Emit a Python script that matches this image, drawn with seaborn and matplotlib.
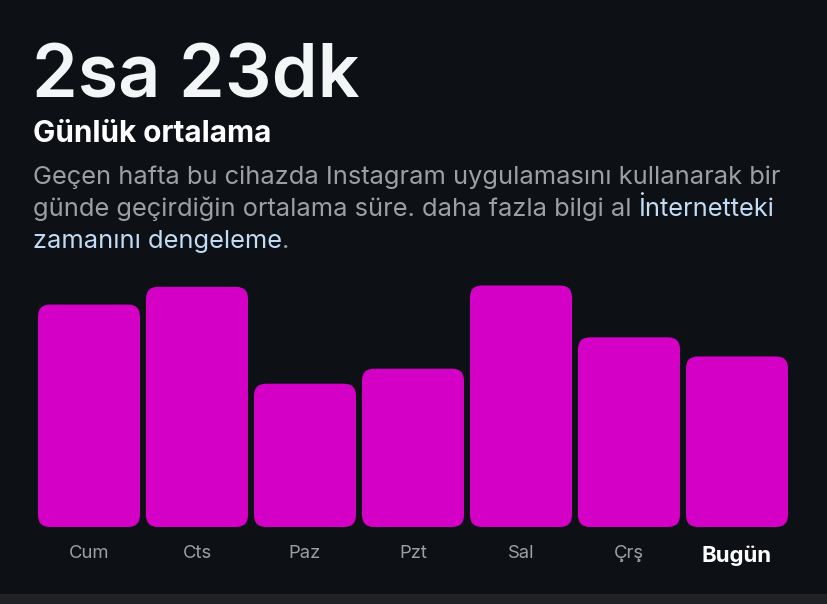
import matplotlib.pyplot as plt
import seaborn as sns
from matplotlib.patches import FancyBboxPatch

# minutes per day
days = ['Cum', 'Cts', 'Paz', 'Pzt', 'Sal', 'Çrş', 'Bugün']
minutes = [163, 176, 105, 116, 177, 139, 125]

BG = '#0d1015'
BAR = '#d400c5'
GRAY = '#9c9fa4'
LINK = '#c2dcf5'

sns.set_style('dark')
plt.rcParams['font.family'] = ['Inter', 'DejaVu Sans']

fig = plt.figure(figsize=(8.28, 6.04), dpi=100, facecolor=BG)
W, H = 828, 604

ax = fig.add_axes([35 / W, (H - 527) / H, 756 / W, 247 / H])
ax.set_facecolor(BG)
sns.barplot(x=days, y=minutes, color=BAR, width=102 / 108, saturation=1, ax=ax)
ax.set_xlim(-0.5, 6.5)
ax.set_ylim(0, 181)

# swap plain rectangles for rounded ones
radius_px = 12
fig.canvas.draw()
sx = ax.transData.transform((1, 0))[0] - ax.transData.transform((0, 0))[0]
sy = ax.transData.transform((0, 1))[1] - ax.transData.transform((0, 0))[1]
rx = radius_px / sx
for p in list(ax.patches):
    x, y, w, h = p.get_x(), p.get_y(), p.get_width(), p.get_height()
    p.remove()
    ax.add_patch(FancyBboxPatch((x, y), w, h,
                                boxstyle=f'round,pad=0,rounding_size={rx}',
                                mutation_aspect=sx / sy,
                                facecolor=BAR, edgecolor='none'))

for s in ax.spines.values():
    s.set_visible(False)
ax.grid(False)
ax.set_yticks([])
ax.tick_params(axis='x', length=0, pad=13)
ax.set_xticks(range(len(days)))
ax.set_xticklabels(days)
for i, lab in enumerate(ax.get_xticklabels()):
    if i == len(days) - 1:
        lab.set_color('white')
        lab.set_fontsize(16)
        lab.set_fontweight('bold')
    else:
        lab.set_color(GRAY)
        lab.set_fontsize(13.3)

# header texts
fig.text(32 / W, 1 - 97 / H, '2sa 23dk', color='#f4f5f7', fontsize=53,
         fontweight='semibold', va='baseline', ha='left')
fig.text(33 / W, 1 - 142 / H, 'Günlük ortalama', color='white', fontsize=21.4,
         fontweight='bold', va='baseline', ha='left')

fs = 18.3
body = dict(fontsize=fs, va='baseline', ha='left')
fig.text(33 / W, 1 - 184 / H, 'Geçen hafta bu cihazda Instagram uygulamasını kullanarak bir',
         color=GRAY, **body)
t2 = fig.text(33 / W, 1 - 216 / H, 'günde geçirdiğin ortalama süre. daha fazla bilgi al ',
              color=GRAY, **body)
ax.annotate('İnternetteki', xy=(1, 0), xycoords=t2, va='bottom', ha='left',
            color=LINK, fontsize=fs, annotation_clip=False)
t3 = fig.text(33 / W, 1 - 248 / H, 'zamanını dengeleme', color=LINK, **body)
ax.annotate('.', xy=(1, 0), xycoords=t3, va='bottom', ha='left',
            color=GRAY, fontsize=fs, annotation_clip=False)

# bottom strip
fig.patches.append(plt.Rectangle((0, 0), 1, 10 / H, transform=fig.transFigure,
                                 facecolor='#202226', edgecolor='none'))

fig.savefig('out.png', dpi=100, facecolor=BG)
